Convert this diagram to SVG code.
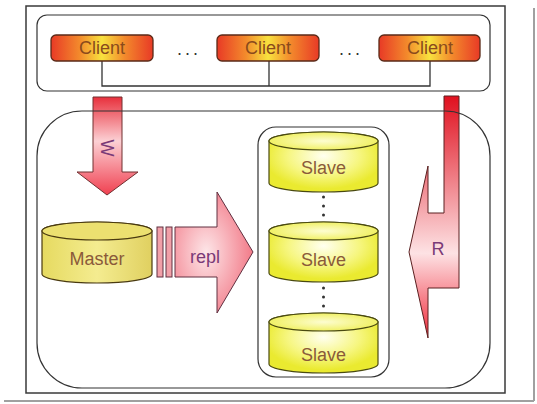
<svg xmlns="http://www.w3.org/2000/svg" width="537" height="404" viewBox="0 0 537 404">
<style>
.frame{fill:none;stroke:#3a3a3a;stroke-width:1.5}
.box{fill:none;stroke:#333;stroke-width:1.2}
.conn{fill:none;stroke:#333;stroke-width:1.3}
.client{fill:url(#gClient);stroke:#5a2a18;stroke-width:1.3}
.ctext{font-family:"Liberation Sans",Arial,sans-serif;font-size:18px;fill:#8a4a1c;text-anchor:middle}
.cyl{fill:url(#gCyl);stroke:#4a4a10;stroke-width:1.2}
.cyltop{fill:url(#gCylTop);stroke:#4a4a10;stroke-width:1.2}
.mcyl{fill:url(#gMas);stroke:#4a3a10;stroke-width:1.2}
.mtop{fill:#ece070;stroke:#4a3a10;stroke-width:1.2}
.dtext{font-family:"Liberation Sans",Arial,sans-serif;font-size:18px;fill:#8a5a3a;text-anchor:middle}
.atext{font-family:"Liberation Sans",Arial,sans-serif;font-size:18px;fill:#7a3a78;text-anchor:middle}
.dots{font-family:"Liberation Sans",Arial,sans-serif;font-size:18px;fill:#333;text-anchor:middle;letter-spacing:3px}
.dot{fill:#333}
</style>
<defs>
<linearGradient id="gClient" x1="0" y1="0" x2="1" y2="0">
<stop offset="0" stop-color="#e83a26"/>
<stop offset="0.28" stop-color="#f38a2c"/>
<stop offset="0.5" stop-color="#f8e23e"/>
<stop offset="0.72" stop-color="#f38a2c"/>
<stop offset="1" stop-color="#e83a26"/>
</linearGradient>
<radialGradient id="gCyl" cx="50%" cy="40%" r="55%">
<stop offset="0" stop-color="#fffff0"/>
<stop offset="0.6" stop-color="#f6f680"/>
<stop offset="1" stop-color="#eaea30"/>
</radialGradient>
<radialGradient id="gCylTop" cx="50%" cy="50%" r="60%">
<stop offset="0" stop-color="#fdfdd0"/>
<stop offset="1" stop-color="#eeee50"/>
</radialGradient>
<linearGradient id="gMas" x1="0" y1="0" x2="1" y2="0">
<stop offset="0" stop-color="#e6da60"/>
<stop offset="0.5" stop-color="#f4ec90"/>
<stop offset="1" stop-color="#e0d060"/>
</linearGradient>
<linearGradient id="gW" x1="0" y1="0" x2="0" y2="1">
<stop offset="0" stop-color="#e8303c"/>
<stop offset="0.45" stop-color="#fcd0d4"/>
<stop offset="1" stop-color="#f04050"/>
</linearGradient>
<linearGradient id="gR" x1="0" y1="0" x2="0" y2="1">
<stop offset="0" stop-color="#e0101e"/>
<stop offset="0.65" stop-color="#fde2e4"/>
<stop offset="1" stop-color="#f02a3a"/>
</linearGradient>
<radialGradient id="gRepl" cx="40%" cy="50%" r="60%">
<stop offset="0" stop-color="#fde6e8"/>
<stop offset="1" stop-color="#f27a88"/>
</radialGradient>
</defs>
<rect x="0" y="0" width="537" height="404" fill="#ffffff"/>
<line x1="534" y1="8" x2="534" y2="401" stroke="#a0a0a0" stroke-width="2"/>
<line x1="4" y1="401" x2="534" y2="401" stroke="#a0a0a0" stroke-width="2"/>
<rect class="frame" x="26" y="6" width="479" height="387"/>

<g id="arrowW">
<polygon points="93,97 122,97 122,172 138,172 107,195 77,172 93,172" fill="url(#gW)" stroke="#703030" stroke-width="1"/>
<text class="atext" transform="translate(101,148) rotate(90)">W</text>
</g>
<g id="arrowR">
<polygon points="444,96 459,96 459,288 428,288 428,338 409,252 428,166 428,213 444,213" fill="url(#gR)" stroke="#5a2020" stroke-width="1"/>
<text class="atext" x="438" y="255">R</text>
</g>
<g id="arrowRepl">
<rect x="157" y="227" width="6" height="50" fill="#f2a0a8" stroke="#603040" stroke-width="1"/>
<rect x="166" y="227" width="6" height="50" fill="#f2a0a8" stroke="#603040" stroke-width="1"/>
<polygon points="175,227 217,227 217,192 253,252 217,313 217,277 175,277" fill="url(#gRepl)" stroke="#603040" stroke-width="1"/>
<text class="atext" x="205" y="263">repl</text>
</g>

<g id="clientGroup">
<rect class="box" x="37" y="15" width="453" height="76" rx="10"/>
</g>
<g id="connectors">
<path class="conn" d="M102,61 V86 H430 V61 M269,61 V86"/>
</g>
<g id="client1">
<rect class="client" x="51" y="35" width="102" height="26" rx="5"/>
<text class="ctext" x="102" y="54">Client</text>
</g>
<text class="dots" x="189" y="55">...</text>
<g id="client2">
<rect class="client" x="217" y="35" width="102" height="26" rx="5"/>
<text class="ctext" x="268" y="54">Client</text>
</g>
<text class="dots" x="351" y="55">...</text>
<g id="client3">
<rect class="client" x="379" y="35" width="101" height="26" rx="5"/>
<text class="ctext" x="430" y="54">Client</text>
</g>

<g id="dbCluster">
<rect class="box" x="37" y="111" width="453" height="277" rx="45"/>
</g>
<g id="slaveGroup">
<rect class="box" x="258" y="127" width="131" height="250" rx="18"/>
</g>

<g id="master">
<path class="mcyl" d="M42,231 A55,9 0 0 1 152,231 V274 A55,9 0 0 1 42,274 Z"/>
<ellipse class="mtop" cx="97" cy="231" rx="55" ry="9"/>
<text class="dtext" x="97" y="265">Master</text>
</g>
<g id="slave1">
<path class="cyl" d="M269,141 A54.5,9 0 0 1 378,141 V183 A54.5,9 0 0 1 269,183 Z"/>
<ellipse class="cyltop" cx="323.5" cy="141" rx="54.5" ry="9"/>
<text class="dtext" x="323.5" y="174">Slave</text>
</g>
<g id="slave2">
<path class="cyl" d="M269,231 A54.5,9 0 0 1 378,231 V273 A54.5,9 0 0 1 269,273 Z"/>
<ellipse class="cyltop" cx="323.5" cy="231" rx="54.5" ry="9"/>
<text class="dtext" x="323.5" y="266">Slave</text>
</g>
<g id="slave3">
<path class="cyl" d="M269,322 A54.5,9 0 0 1 378,322 V364 A54.5,9 0 0 1 269,364 Z"/>
<ellipse class="cyltop" cx="323.5" cy="322" rx="54.5" ry="9"/>
<text class="dtext" x="323.5" y="361">Slave</text>
</g>
<g id="vdots">
<circle class="dot" cx="323.5" cy="197" r="1.5"/>
<circle class="dot" cx="323.5" cy="206" r="1.5"/>
<circle class="dot" cx="323.5" cy="215" r="1.5"/>
<circle class="dot" cx="323.5" cy="288" r="1.5"/>
<circle class="dot" cx="323.5" cy="297" r="1.5"/>
<circle class="dot" cx="323.5" cy="306" r="1.5"/>
</g>
</svg>
